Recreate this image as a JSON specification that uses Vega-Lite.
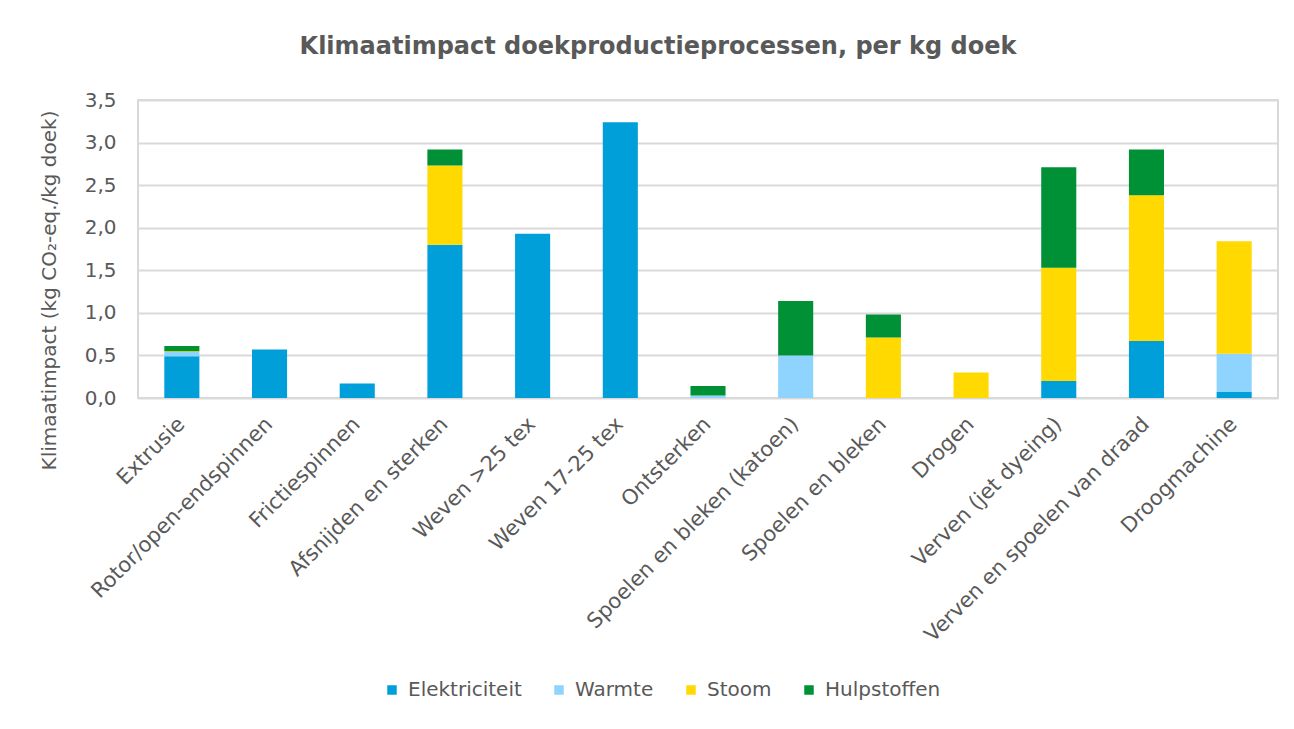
{
  "$schema": "https://vega.github.io/schema/vega-lite/v6.json",
  "width": 1140,
  "height": 298,
  "autosize": {"type": "none"},
  "padding": {"left": 138, "top": 100, "right": 16, "bottom": 331},
  "background": "white",
  "title": {
    "text": "Klimaatimpact doekproductieprocessen, per kg doek",
    "font": "DejaVu Sans",
    "fontSize": 24,
    "fontWeight": "bold",
    "color": "#595959",
    "anchor": "middle",
    "dx": -50,
    "offset": 31
  },
  "data": {
    "values": [
      {"proces": "Extrusie", "bron": "Elektriciteit", "waarde": 0.49},
      {"proces": "Extrusie", "bron": "Warmte", "waarde": 0.05},
      {"proces": "Extrusie", "bron": "Stoom", "waarde": 0.01},
      {"proces": "Extrusie", "bron": "Hulpstoffen", "waarde": 0.06},
      {"proces": "Rotor/open-endspinnen", "bron": "Elektriciteit", "waarde": 0.57},
      {"proces": "Frictiespinnen", "bron": "Elektriciteit", "waarde": 0.17},
      {"proces": "Afsnijden en sterken", "bron": "Elektriciteit", "waarde": 1.80},
      {"proces": "Afsnijden en sterken", "bron": "Stoom", "waarde": 0.93},
      {"proces": "Afsnijden en sterken", "bron": "Hulpstoffen", "waarde": 0.19},
      {"proces": "Weven >25 tex", "bron": "Elektriciteit", "waarde": 1.93},
      {"proces": "Weven 17-25 tex", "bron": "Elektriciteit", "waarde": 3.24},
      {"proces": "Ontsterken", "bron": "Warmte", "waarde": 0.03},
      {"proces": "Ontsterken", "bron": "Hulpstoffen", "waarde": 0.11},
      {"proces": "Spoelen en bleken (katoen)", "bron": "Warmte", "waarde": 0.50},
      {"proces": "Spoelen en bleken (katoen)", "bron": "Hulpstoffen", "waarde": 0.64},
      {"proces": "Spoelen en bleken", "bron": "Stoom", "waarde": 0.71},
      {"proces": "Spoelen en bleken", "bron": "Hulpstoffen", "waarde": 0.27},
      {"proces": "Drogen", "bron": "Stoom", "waarde": 0.30},
      {"proces": "Verven (jet dyeing)", "bron": "Elektriciteit", "waarde": 0.20},
      {"proces": "Verven (jet dyeing)", "bron": "Stoom", "waarde": 1.33},
      {"proces": "Verven (jet dyeing)", "bron": "Hulpstoffen", "waarde": 1.18},
      {"proces": "Verven en spoelen van draad", "bron": "Elektriciteit", "waarde": 0.67},
      {"proces": "Verven en spoelen van draad", "bron": "Stoom", "waarde": 1.71},
      {"proces": "Verven en spoelen van draad", "bron": "Hulpstoffen", "waarde": 0.54},
      {"proces": "Droogmachine", "bron": "Elektriciteit", "waarde": 0.07},
      {"proces": "Droogmachine", "bron": "Warmte", "waarde": 0.45},
      {"proces": "Droogmachine", "bron": "Stoom", "waarde": 1.32}
    ]
  },
  "transform": [
    {"calculate": "indexof(['Elektriciteit','Warmte','Stoom','Hulpstoffen'], datum.bron)", "as": "volgorde"}
  ],
  "mark": {"type": "bar"},
  "encoding": {
    "x": {
      "field": "proces",
      "type": "nominal",
      "sort": null,
      "scale": {"paddingInner": 0.6, "paddingOuter": 0.3},
      "axis": {
        "title": null,
        "labelAngle": -45,
        "labelFont": "DejaVu Sans",
        "labelFontSize": 21,
        "labelColor": "#595959",
        "labelLimit": 500,
        "labelOffset": -8,
        "ticks": false,
        "domain": false,
        "labelPadding": 15
      }
    },
    "y": {
      "field": "waarde",
      "type": "quantitative",
      "stack": "zero",
      "scale": {"domain": [0, 3.5], "nice": false},
      "axis": {
        "title": "Klimaatimpact (kg CO₂-eq./kg doek)",
        "titleFont": "DejaVu Sans",
        "titleFontSize": 20,
        "titleFontWeight": "normal",
        "titleColor": "#595959",
        "titleX": -79,
        "titleY": 190,
        "values": [0, 0.5, 1, 1.5, 2, 2.5, 3, 3.5],
        "labelExpr": "replace(format(datum.value, '.1f'), '.', ',')",
        "labelFont": "DejaVu Sans",
        "labelFontSize": 20,
        "labelColor": "#595959",
        "labelPadding": 22,
        "ticks": false,
        "domain": false,
        "gridColor": "#d9d9d9",
        "gridWidth": 2
      }
    },
    "color": {
      "field": "bron",
      "type": "nominal",
      "scale": {
        "domain": ["Elektriciteit", "Warmte", "Stoom", "Hulpstoffen"],
        "range": ["#009fda", "#8fd3ff", "#ffd900", "#009036"]
      },
      "legend": {
        "title": null,
        "orient": "none",
        "direction": "horizontal",
        "legendX": 244,
        "legendY": 580,
        "symbolType": "square",
        "symbolSize": 90,
        "symbolStrokeWidth": 0,
        "labelFont": "DejaVu Sans",
        "labelFontSize": 20,
        "labelColor": "#595959",
        "columnPadding": 27,
        "labelOffset": 6
      }
    },
    "order": {"field": "volgorde", "type": "quantitative", "sort": "ascending"}
  },
  "config": {
    "view": {"stroke": "#d9d9d9", "strokeWidth": 2}
  }
}
